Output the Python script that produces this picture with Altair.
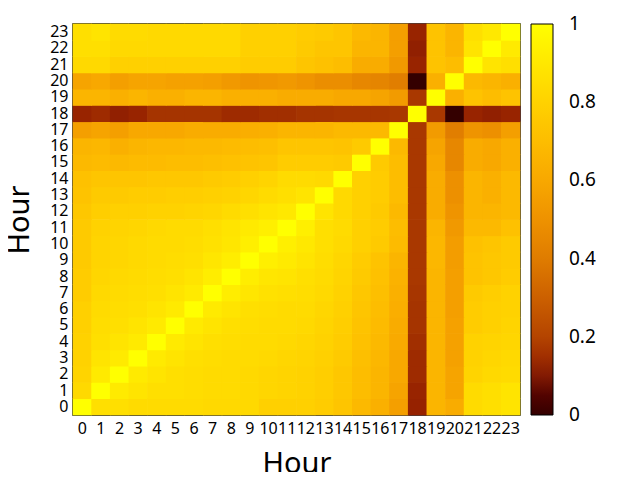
import altair as alt
import pandas as pd

hours = list(range(24))

# correlation rows: row_r[c] = value at (x=c, y=r)
row_00 = [1.00, .86, .86, .84, .84, .84, .84, .83, .83, .83, .79, .79, .79, .77, .74, .68, .64, .56, .12, .66, .62, .84, .86, .88]
row_01 = [.83, 1.00, .91, .88, .86, .86, .85, .84, .84, .83, .82, .81, .80, .78, .75, .70, .66, .58, .125, .66, .58, .84, .86, .88]
row_02 = [.81, .91, 1.00, .91, .88, .86, .85, .84, .84, .83, .82, .81, .80, .78, .75, .70, .66, .60, .14, .66, .58, .81, .83, .84]
row_03 = [.80, .88, .91, 1.00, .91, .88, .86, .85, .84, .84, .83, .82, .81, .79, .76, .71, .67, .60, .14, .66, .57, .80, .82, .83]
row_04 = [.80, .86, .88, .91, 1.00, .91, .88, .86, .85, .84, .84, .83, .82, .80, .77, .72, .68, .61, .15, .66, .57, .80, .81, .82]
row_05 = [.79, .85, .86, .88, .91, 1.00, .91, .88, .86, .85, .84, .84, .83, .81, .78, .73, .69, .62, .16, .66, .57, .77, .79, .81]
row_06 = [.79, .84, .85, .86, .88, .91, 1.00, .91, .88, .86, .85, .84, .84, .82, .79, .74, .70, .63, .16, .66, .56, .77, .79, .80]
row_07 = [.77, .83, .84, .85, .86, .88, .91, 1.00, .92, .89, .87, .86, .85, .83, .80, .75, .71, .64, .165, .66, .56, .76, .78, .80]
row_08 = [.77, .82, .83, .84, .85, .86, .88, .92, 1.00, .92, .89, .88, .86, .84, .81, .76, .72, .65, .17, .66, .56, .73, .75, .77]
row_09 = [.76, .81, .82, .83, .84, .85, .86, .89, .92, 1.00, .93, .91, .88, .85, .82, .77, .73, .66, .17, .67, .55, .73, .75, .76]
row_10 = [.76, .81, .82, .83, .84, .84, .85, .87, .89, .93, 1.00, .93, .90, .86, .83, .79, .76, .69, .17, .67, .55, .72, .74, .76]
row_11 = [.76, .80, .81, .82, .83, .84, .84, .86, .88, .91, .93, 1.00, .93, .86, .84, .79, .77, .70, .17, .66, .53, .68, .68, .72]
row_12 = [.75, .78, .79, .79, .80, .80, .81, .82, .84, .86, .88, .90, 1.00, .88, .83, .79, .76, .68, .17, .62, .51, .66, .66, .68]
row_13 = [.73, .76, .76, .77, .77, .78, .78, .79, .80, .82, .84, .86, .88, 1.00, .83, .79, .77, .70, .17, .62, .49, .66, .64, .68]
row_14 = [.72, .74, .74, .74, .75, .75, .75, .76, .77, .79, .81, .84, .84, .83, 1.00, .79, .77, .70, .17, .62, .49, .66, .64, .68]
row_15 = [.68, .69, .68, .69, .69, .70, .70, .71, .72, .73, .74, .77, .77, .77, .76, 1.00, .76, .70, .17, .60, .45, .62, .60, .64]
row_16 = [.66, .67, .64, .66, .67, .67, .68, .68, .69, .70, .71, .74, .74, .74, .73, .76, 1.00, .68, .17, .58, .45, .62, .60, .64]
row_17 = [.56, .58, .56, .60, .60, .60, .62, .62, .62, .63, .64, .66, .66, .66, .68, .68, .68, 1.00, .17, .54, .41, .51, .49, .56]
row_18 = [.125, .14, .115, .125, .16, .16, .16, .16, .14, .14, .15, .15, .16, .16, .165, .165, .165, .17, 1.00, .17, 0.0, .125, .115, .125]
row_19 = [.66, .66, .64, .66, .64, .64, .66, .66, .64, .64, .64, .62, .62, .62, .60, .60, .58, .54, .17, 1.00, .64, .73, .70, .73]
row_20 = [.58, .60, .56, .58, .58, .57, .57, .56, .53, .51, .52, .53, .51, .48, .48, .45, .44, .41, 0.0, .64, 1.00, .68, .66, .64]
row_21 = [.83, .83, .79, .79, .79, .79, .79, .79, .79, .77, .77, .77, .74, .72, .70, .62, .62, .53, .125, .73, .70, 1.00, .88, .86]
row_22 = [.86, .86, .83, .83, .83, .83, .83, .83, .83, .79, .79, .79, .76, .74, .74, .66, .66, .56, .115, .73, .66, .88, 1.00, .91]
row_23 = [.86, .88, .84, .84, .83, .83, .83, .83, .83, .79, .79, .79, .77, .76, .74, .68, .66, .56, .125, .73, .66, .86, .90, 1.00]

rows = [row_00, row_01, row_02, row_03, row_04, row_05, row_06, row_07, row_08, row_09,
        row_10, row_11, row_12, row_13, row_14, row_15, row_16, row_17, row_18, row_19,
        row_20, row_21, row_22, row_23]

# colorbar label positions (ends nudged inside so labels stay centred on the ends)
colorbar_ticks = [0.0001, 0.2, 0.4, 0.6, 0.8, 0.9999]

records = []
for r, row in enumerate(rows):
    for c, v in enumerate(row):
        records.append({"x": hours[c], "y": hours[r], "v": v})
df = pd.DataFrame(records)

pal_domain = [0.0, 0.06, 0.12, 0.2, 0.3, 0.4, 0.5, 0.6, 0.7, 0.8, 0.9, 1.0]
pal_range = ["#000000", "#5a0c00", "#962200", "#b44400", "#cc6000", "#df7c00",
             "#ee9200", "#f8a800", "#fdbd00", "#ffd200", "#ffe800", "#ffff00"]
cscale = alt.Scale(domain=pal_domain, range=pal_range, type="linear", clamp=True)

FONT = "Noto Sans"
W, H = 447, 391

# cells drawn a hair larger than their band so no seams show between them
chart = alt.Chart(df).mark_rect(width=W / 24 + 0.7, height=H / 24 + 0.7).encode(
    x=alt.X("x:O", sort=hours,
            scale=alt.Scale(paddingInner=0, paddingOuter=0),
            axis=alt.Axis(title="Hour", labelAngle=0, ticks=False, domain=False,
                          labelFontSize=16, labelFont=FONT, labelColor="black",
                          labelPadding=5, labelOverlap=False,
                          titleFont=FONT, titleFontSize=29, titleFontWeight="normal",
                          titleColor="black", titleBaseline="alphabetic",
                          titleX=W / 2, titleY=57, titleAlign="center")),
    y=alt.Y("y:O", sort="descending",
            scale=alt.Scale(paddingInner=0, paddingOuter=0),
            axis=alt.Axis(title="Hour", ticks=False, domain=False,
                          labelFontSize=16, labelFont=FONT, labelColor="black",
                          labelPadding=5, labelOverlap=False,
                          titleFont=FONT, titleFontSize=29, titleFontWeight="normal",
                          titleColor="black", titleBaseline="alphabetic",
                          titleAngle=-90, titleX=-45, titleY=H / 2, titleAlign="center")),
    color=alt.Color("v:Q", scale=cscale,
                    legend=alt.Legend(title=None, orient="none", legendX=458, legendY=0,
                                      direction="vertical", type="gradient",
                                      gradientLength=H, gradientThickness=22,
                                      gradientStrokeColor="black", gradientStrokeWidth=1,
                                      values=colorbar_ticks, format=".1~f",
                                      labelFont=FONT, labelFontSize=19, labelColor="black",
                                      labelOffset=16, labelBaseline="middle",
                                      labelOverlap=False)),
).properties(
    width=W, height=H,
    autosize=alt.AutoSizeParams(type="none"),
    padding={"left": 65, "top": 16, "right": 112, "bottom": 57},
).configure_view(stroke="black", strokeWidth=1.5)

chart.save("out.html", embed_options={"renderer": "svg", "actions": False})
